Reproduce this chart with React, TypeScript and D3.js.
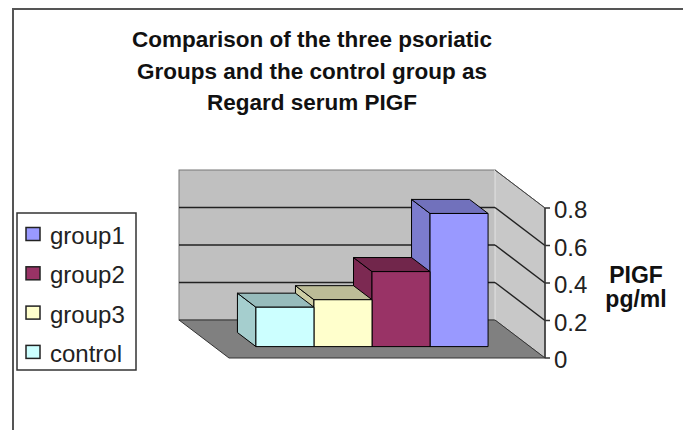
import * as d3 from 'd3';

// series, left-to-right in the legend
const categories = ['group1', 'group2', 'group3', 'control'];
const values = [0.71, 0.4, 0.25, 0.21];
const colors = ['#9999FF', '#993366', '#FFFFCC', '#CCFFFF'];
const tickValues = [0, 0.2, 0.4, 0.6, 0.8];
const titleLines = [
  'Comparison of the three psoriatic',
  'Groups and the control group as',
  'Regard serum PIGF',
];
const axisTitle = ['PIGF', 'pg/ml'];

const W = 683;
const H = 430;
const font = 'Liberation Sans, Arial, sans-serif';

// 3d box: back wall corners and the depth shift to the front plane
const box = { left: 179, right: 495, dx: 50, dy: 38 };
// bars sit between these depth fractions (0 = back wall, 1 = front edge)
const barDepth = { back: 0.33, front: 0.7 };

const yFront = d3.scaleLinear().domain([0, 0.8]).range([358, 208]);
const yBack = (v: number) => yFront(v) - box.dy;
const yBar = (v: number) => yBack(v) + barDepth.front * box.dy;

const groupBand = d3
  .scaleBand()
  .domain(['PIGF'])
  .range([box.left + barDepth.front * box.dx, box.right + barDepth.front * box.dx])
  .padding(0.153);

const xBar = d3
  .scaleBand()
  .domain([...categories].reverse())
  .range([groupBand('PIGF')!, groupBand('PIGF')! + groupBand.bandwidth()])
  .padding(0);

const colorScale = d3.scaleOrdinal<string, string>().domain(categories).range(colors);

const pts = (p: [number, number][]) => p.map((d) => d.join(',')).join(' ');

const App = () => {
  const bdx = -(barDepth.front - barDepth.back) * box.dx;
  const bdy = -(barDepth.front - barDepth.back) * box.dy;
  const axisX = box.right + box.dx;

  // paint the rightmost bar first so the left ones overlap its side face
  const bars = categories.map((c, i) => {
    const x0 = xBar(c)!;
    const x1 = x0 + xBar.bandwidth();
    const yt = yBar(values[i]);
    const yb = yBar(0);
    const base = colorScale(c);
    const top = d3.color(base)!.darker(0.85).formatHex();
    const side = d3.color(base)!.darker(0.6).formatHex();
    return (
      <g key={c} stroke="#000" strokeWidth={1} strokeLinejoin="round">
        <polygon
          points={pts([[x0, yt], [x0 + bdx, yt + bdy], [x0 + bdx, yb + bdy], [x0, yb]])}
          fill={side}
        />
        <polygon
          points={pts([[x0, yt], [x1, yt], [x1 + bdx, yt + bdy], [x0 + bdx, yt + bdy]])}
          fill={top}
        />
        <rect x={x0} y={yt} width={x1 - x0} height={yb - yt} fill={base} />
      </g>
    );
  });

  return (
    <svg
      width={W}
      height={H}
      style={{ position: 'absolute', left: 0, top: 0, background: '#fff' }}
      fontFamily={font}
    >
      {/* chart area border */}
      <rect x={13} y={9} width={800} height={600} fill="#fff" stroke="#555" strokeWidth={2} />

      {/* title */}
      {titleLines.map((t, i) => (
        <text
          key={i}
          x={312}
          y={47 + i * 31.5}
          textAnchor="middle"
          fontSize={22.5}
          fontWeight="bold"
          fill="#111"
        >
          {t}
        </text>
      ))}

      {/* back wall */}
      <rect
        x={box.left}
        y={yBack(0.8)}
        width={box.right - box.left}
        height={yBack(0) - yBack(0.8)}
        fill="#C0C0C0"
        stroke="#777"
        strokeWidth={1}
      />
      {/* right wall */}
      <polygon
        points={pts([
          [box.right, yBack(0.8)],
          [axisX, yFront(0.8)],
          [axisX, yFront(0)],
          [box.right, yBack(0)],
        ])}
        fill="#C8C8C8"
        stroke="#777"
        strokeWidth={1}
      />
      <line x1={box.right} x2={box.right} y1={yBack(0.8)} y2={yBack(0)} stroke="#e8e8e8" strokeWidth={1.5} />
      {/* floor */}
      <polygon
        points={pts([
          [box.left, yBack(0)],
          [box.right, yBack(0)],
          [axisX, yFront(0)],
          [box.left + box.dx, yFront(0)],
        ])}
        fill="#808080"
        stroke="#333"
        strokeWidth={1}
      />

      {/* gridlines */}
      {tickValues
        .filter((t) => t > 0 && t < 0.8)
        .map((t) => (
          <g key={t} stroke="#222" strokeWidth={1.5}>
            <line x1={box.left} x2={box.right} y1={yBack(t)} y2={yBack(t)} />
            <line x1={box.right} x2={axisX} y1={yBack(t)} y2={yFront(t)} />
          </g>
        ))}
      <line x1={box.right} x2={axisX} y1={yBack(0.8)} y2={yFront(0.8)} stroke="#444" strokeWidth={1} />

      {bars}

      {/* value axis */}
      <line x1={axisX} x2={axisX} y1={yFront(0.8)} y2={yFront(0)} stroke="#333" strokeWidth={1.5} />
      {tickValues.map((t) => (
        <g key={t}>
          <line x1={axisX} x2={axisX + 5} y1={yFront(t)} y2={yFront(t)} stroke="#333" strokeWidth={1.5} />
          <text x={axisX + 9} y={yFront(t) + 10} fontSize={24} fill="#222">
            {t}
          </text>
        </g>
      ))}
      {axisTitle.map((t, i) => (
        <text key={t} x={636} y={283 + i * 24} textAnchor="middle" fontSize={23} fontWeight="bold" fill="#111">
          {t}
        </text>
      ))}

      {/* legend */}
      <rect x={17} y={213} width={119} height={157} fill="#fff" stroke="#333" strokeWidth={1.5} />
      {categories.map((c, i) => {
        const cy = 234 + i * 39.3;
        return (
          <g key={c}>
            <rect x={26} y={cy - 6.5} width={14} height={13} fill={colorScale(c)} stroke="#222" strokeWidth={1.5} />
            <text x={50} y={cy + 10} fontSize={24} fill="#222">
              {c}
            </text>
          </g>
        );
      })}
    </svg>
  );
};

export default App;
